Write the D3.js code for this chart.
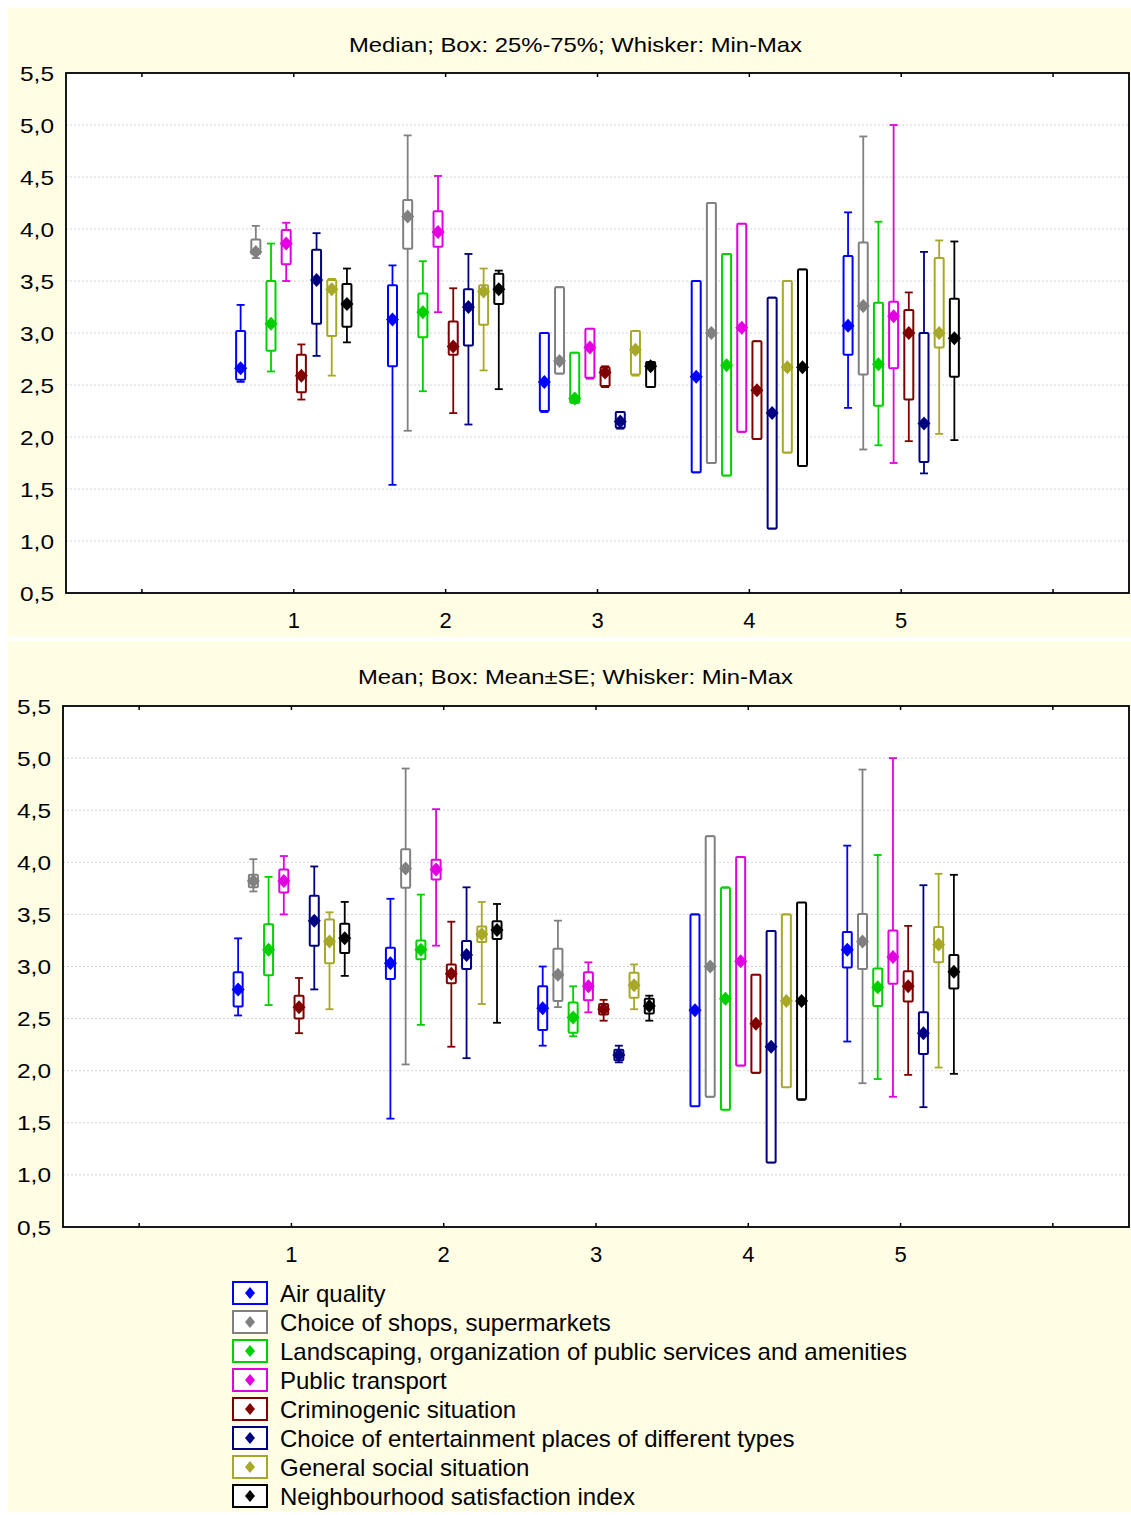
<!DOCTYPE html>
<html><head><meta charset="utf-8">
<script src="https://cdn.jsdelivr.net/npm/d3@7"></script>
<style>body{margin:0;background:#fff}svg{display:block}text{font-family:"Liberation Sans",Arial,sans-serif}</style>
</head><body><svg id="c" width="1131" height="1515"></svg>
<script>
const categories = [1, 2, 3, 4, 5];
const seriesNames = ["Air quality", "Choice of shops, supermarkets",
  "Landscaping, organization of public services and amenities", "Public transport",
  "Criminogenic situation", "Choice of entertainment places of different types",
  "General social situation", "Neighbourhood satisfaction index"];
const seriesColors = ["#0000FF", "#808080", "#00D000", "#E000E0", "#800000", "#000080", "#A8A828", "#000000"];
const yTicks = [0.5, 1.0, 1.5, 2.0, 2.5, 3.0, 3.5, 4.0, 4.5, 5.0, 5.5];
// per series, per category
const minVals = [
  [2.53, 1.54, 2.24, 1.66, 2.28], [3.72, 2.06, 2.61, 1.75, 1.88], [2.63, 2.44, 2.33, 1.63, 1.92],
  [3.50, 3.20, 2.56, 2.05, 1.75], [2.36, 2.23, 2.48, 1.98, 1.96], [2.78, 2.12, 2.08, 1.12, 1.65],
  [2.59, 2.64, 2.59, 1.85, 2.03], [2.91, 2.46, 2.48, 1.72, 1.97]];
const q1Vals = [
  [2.55, 2.68, 2.25, 1.66, 2.79], [3.76, 3.81, 2.61, 1.75, 2.60], [2.83, 2.96, 2.33, 1.63, 2.30],
  [3.66, 3.83, 2.57, 2.05, 2.66], [2.43, 2.79, 2.49, 1.98, 2.36], [3.09, 2.88, 2.09, 1.12, 1.76],
  [2.97, 3.08, 2.60, 1.85, 2.86], [3.06, 3.28, 2.48, 1.72, 2.58]];
const medianVals = [
  [2.66, 3.13, 2.53, 2.58, 3.07], [3.78, 4.12, 2.73, 3.00, 3.26], [3.09, 3.20, 2.37, 2.69, 2.70],
  [3.86, 3.97, 2.86, 3.05, 3.16], [2.59, 2.87, 2.62, 2.45, 3.00], [3.51, 3.25, 2.15, 2.23, 2.13],
  [3.42, 3.40, 2.84, 2.67, 3.00], [3.28, 3.42, 2.68, 2.67, 2.95]];
const q3Vals = [
  [3.02, 3.46, 3.00, 3.50, 3.74], [3.90, 4.28, 3.44, 4.25, 3.87], [3.50, 3.38, 2.81, 3.76, 3.29],
  [3.99, 4.17, 3.04, 4.05, 3.30], [2.79, 3.11, 2.67, 2.92, 3.22], [3.80, 3.42, 2.24, 3.34, 3.00],
  [3.51, 3.46, 3.02, 3.50, 3.72], [3.47, 3.57, 2.72, 3.61, 3.33]];
const maxVals = [
  [3.27, 3.65, 3.00, 3.50, 4.16], [4.03, 4.90, 3.44, 4.25, 4.89], [3.86, 3.69, 2.81, 3.76, 4.07],
  [4.06, 4.51, 3.04, 4.05, 5.00], [2.89, 3.43, 2.68, 2.92, 3.39], [3.96, 3.76, 2.24, 3.34, 3.78],
  [3.52, 3.62, 3.02, 3.50, 3.89], [3.62, 3.60, 2.72, 3.61, 3.88]];
const meanVals = [
  [2.78, 3.03, 2.60, 2.58, 3.16], [3.82, 3.94, 2.92, 3.00, 3.24], [3.16, 3.16, 2.51, 2.69, 2.80],
  [3.82, 3.93, 2.81, 3.05, 3.09], [2.61, 2.93, 2.59, 2.45, 2.81], [3.44, 3.11, 2.15, 2.23, 2.36],
  [3.24, 3.31, 2.82, 2.67, 3.21], [3.27, 3.35, 2.62, 2.67, 2.95]];
const seVals = [
  [0.165, 0.15, 0.21, 0.92, 0.17], [0.06, 0.185, 0.25, 1.25, 0.265], [0.245, 0.09, 0.145, 1.065, 0.18],
  [0.11, 0.095, 0.135, 1.00, 0.255], [0.11, 0.09, 0.05, 0.47, 0.145], [0.24, 0.135, 0.05, 1.11, 0.20],
  [0.21, 0.075, 0.12, 0.83, 0.17], [0.14, 0.085, 0.07, 0.945, 0.16]];

const svg = d3.select("#c");
const cream = "#FFFDE3";
svg.append("rect").attr("x", 8).attr("y", 8).attr("width", 1123).attr("height", 629).attr("fill", cream);
svg.append("rect").attr("x", 8).attr("y", 641).attr("width", 1123).attr("height", 871).attr("fill", cream);

const fmt = v => d3.format(".1f")(v).replace(".", ",");

function panel(opts) {
  const {left, right, top, bottom, title, titleY, mode} = opts;
  const x = d3.scaleLinear().domain([-0.5, 6.5]).range([left, right]);
  const y = d3.scaleLinear().domain([0.5, 5.5]).range([bottom, top]);
  const g = svg.append("g");
  g.append("rect").attr("x", left).attr("y", top).attr("width", right - left).attr("height", bottom - top).attr("fill", "#fff");
  g.selectAll(".grid").data(yTicks.filter(t => t > 0.5 && t < 5.5)).join("line")
    .attr("x1", left).attr("x2", right).attr("y1", d => y(d)).attr("y2", d => y(d))
    .attr("stroke", "#d4d4d4").attr("stroke-width", 1).attr("stroke-dasharray", "2,2");
  g.selectAll(".yl").data(yTicks).join("text")
    .attr("x", left - 12).attr("y", d => y(d)).attr("dy", "0.36em").attr("text-anchor", "end")
    .attr("font-size", 21).attr("textLength", 34).attr("lengthAdjust", "spacingAndGlyphs")
    .attr("fill", "#000").text(fmt);
  const xt = d3.range(0, 7);
  g.selectAll(".xt1").data(xt).join("line").attr("x1", d => x(d)).attr("x2", d => x(d))
    .attr("y1", top).attr("y2", top + 4).attr("stroke", "#000").attr("stroke-width", 1.5);
  g.selectAll(".xt2").data(xt).join("line").attr("x1", d => x(d)).attr("x2", d => x(d))
    .attr("y1", bottom).attr("y2", bottom - 4).attr("stroke", "#000").attr("stroke-width", 1.5);
  g.selectAll(".xl").data(categories).join("text")
    .attr("x", d => x(d)).attr("y", bottom + 27).attr("dy", "0.36em").attr("text-anchor", "middle")
    .attr("font-size", 22).text(d => d);
  g.append("text").attr("x", 575.5).attr("y", titleY).attr("dy", "0.36em").attr("text-anchor", "middle")
    .attr("font-size", 21).attr("textLength", opts.titleLen).attr("lengthAdjust", "spacingAndGlyphs").text(title);

  const bw = 9, cap = 4;
  seriesNames.forEach((name, si) => {
    const col = seriesColors[si];
    const sg = g.append("g");
    categories.forEach((c, ci) => {
      const cx = x(c + (si - 3.5) * 0.1);
      let lo, hi, mid;
      if (mode === "median") { lo = q1Vals[si][ci]; hi = q3Vals[si][ci]; mid = medianVals[si][ci]; }
      else { mid = meanVals[si][ci]; lo = mid - seVals[si][ci]; hi = mid + seVals[si][ci]; }
      const mn = minVals[si][ci], mx = maxVals[si][ci];
      sg.append("line").attr("x1", cx).attr("x2", cx).attr("y1", y(mx)).attr("y2", y(hi)).attr("stroke", col).attr("stroke-width", 1.8);
      sg.append("line").attr("x1", cx).attr("x2", cx).attr("y1", y(lo)).attr("y2", y(mn)).attr("stroke", col).attr("stroke-width", 1.8);
      sg.append("line").attr("x1", cx - cap).attr("x2", cx + cap).attr("y1", y(mx)).attr("y2", y(mx)).attr("stroke", col).attr("stroke-width", 1.8);
      sg.append("line").attr("x1", cx - cap).attr("x2", cx + cap).attr("y1", y(mn)).attr("y2", y(mn)).attr("stroke", col).attr("stroke-width", 1.8);
      sg.append("rect").attr("x", cx - bw / 2).attr("y", y(hi)).attr("width", bw).attr("height", Math.max(0, y(lo) - y(hi)))
        .attr("fill", "#fff").attr("stroke", col).attr("stroke-width", 2).attr("rx", 1);
      const my = y(mid);
      sg.append("path").attr("d", `M${cx},${my - 7}L${cx + 6.5},${my}L${cx},${my + 7}L${cx - 6.5},${my}Z`).attr("fill", col);
    });
  });
  g.append("rect").attr("x", left).attr("y", top).attr("width", right - left).attr("height", bottom - top)
    .attr("fill", "none").attr("stroke", "#000").attr("stroke-width", 1.8);
}

panel({left: 66, right: 1129, top: 73, bottom: 593, title: "Median; Box: 25%-75%; Whisker: Min-Max", titleLen: 453, titleY: 44, mode: "median"});
panel({left: 63, right: 1129, top: 706, bottom: 1227, title: "Mean; Box: Mean±SE; Whisker: Min-Max", titleLen: 435, titleY: 676, mode: "mean"});

const lg = svg.append("g");
const ly = d3.scaleLinear().domain([0, 7]).range([1293, 1496]);
seriesNames.forEach((name, i) => {
  const yy = ly(i);
  lg.append("rect").attr("x", 233).attr("y", yy - 11).attr("width", 34).attr("height", 22)
    .attr("fill", "#fff").attr("stroke", seriesColors[i]).attr("stroke-width", 2);
  lg.append("path").attr("d", `M250,${yy - 6}L255,${yy}L250,${yy + 6}L245,${yy}Z`).attr("fill", seriesColors[i]);
  lg.append("text").attr("x", 280).attr("y", yy).attr("dy", "0.36em").attr("font-size", 24).text(name);
});
</script></body></html>
